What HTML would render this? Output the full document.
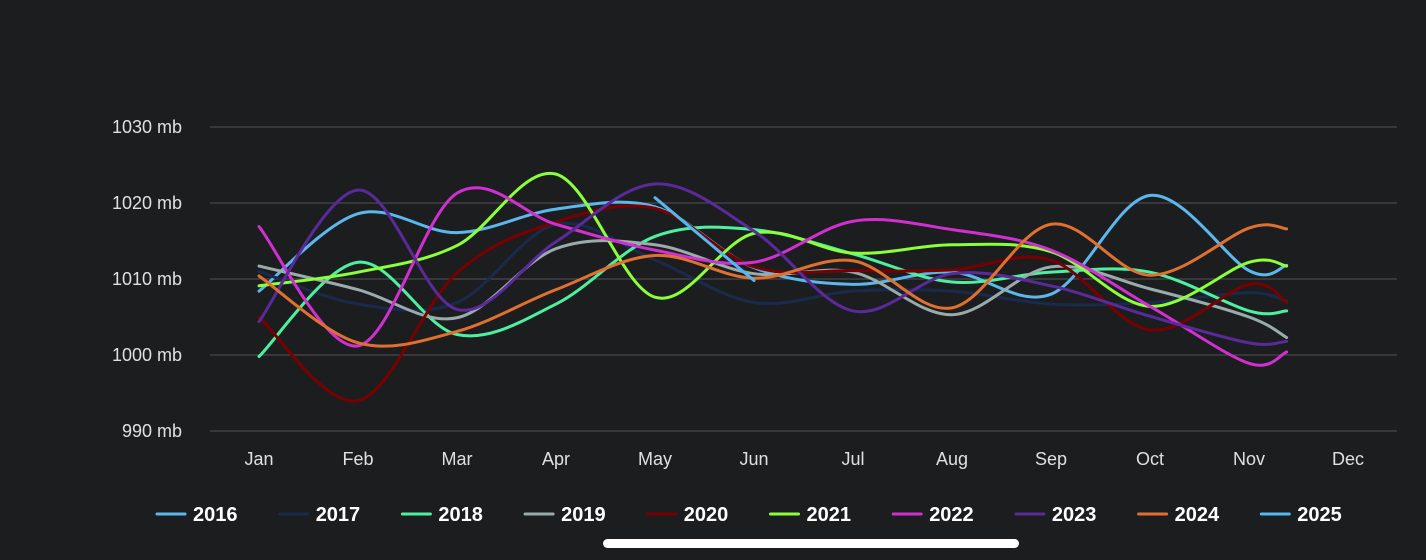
<!DOCTYPE html>
<html><head><meta charset="utf-8"><style>
html,body{margin:0;padding:0;background:#1c1d1f;}
svg{display:block;font-family:"Liberation Sans",sans-serif;}
</style></head><body>
<svg id="chart" width="1426" height="560" viewBox="0 0 1426 560">
<rect width="1426" height="560" fill="#1c1d1f"/>
<g id="grid"></g>
<g id="ylabels"></g>
<g id="xlabels"></g>
<g id="series"></g>
<g id="legend"></g>
<rect x="603" y="539" width="416" height="9" rx="4.5" fill="#ffffff"/>
</svg>
<script>
const categories = ["Jan","Feb","Mar","Apr","May","Jun","Jul","Aug","Sep","Oct","Nov","Dec"];
const yTicks = [990,1000,1010,1020,1030];
const years = ["2016","2017","2018","2019","2020","2021","2022","2023","2024","2025"];
const colors = ["#5cb8ec","#1a2a4c","#4ef0a0","#9aabab","#7a0000","#8aff3a","#d030d0","#5a2a9a","#e07030","#52b8f0"];
// month indices of points (last point = partial current month)
const xIdx = [0,1,2,3,4,5,6,7,8,9,10,10.38];
const s2016 = [1008.4,1018.6,1016.1,1019.2,1019.5,1011.5,1009.3,1010.9,1008,1021,1011.1,1011.8];
const s2017 = [1011,1006.7,1006.9,1017.2,1012.5,1006.9,1008.4,1008.4,1006.7,1006.9,1008.2,1007.1];
const s2018 = [999.8,1012.2,1002.7,1006.7,1015.6,1016.5,1013.3,1009.6,1010.9,1010.9,1005.8,1005.8];
const s2019 = [1011.7,1008.6,1004.9,1014,1014.5,1010.7,1010.9,1005.3,1011.6,1008.7,1005,1002.3];
const s2020 = [1005,994,1010.8,1017.5,1019.3,1011.6,1011.1,1011.2,1012.5,1003.3,1009.3,1006.9];
const s2021 = [1009.1,1010.9,1014.4,1023.8,1007.6,1016,1013.4,1014.5,1013.6,1006.4,1012.2,1011.7];
const s2022 = [1016.9,1001.2,1021.3,1017.2,1013.8,1012.2,1017.6,1016.5,1013.8,1006.4,998.9,1000.4];
const s2023 = [1004.4,1021.7,1006,1014.9,1022.5,1016.3,1005.8,1010.7,1009.1,1005.1,1001.6,1001.8];
const s2024 = [1010.4,1001.6,1003.1,1008.6,1013.1,1010.1,1012.4,1006.2,1017.2,1010.5,1016.7,1016.6];
const s2025 = [null,null,null,null,1020.7,1009.8,null,null,null,null,null,null];
const seriesData = [s2016,s2017,s2018,s2019,s2020,s2021,s2022,s2023,s2024,s2025];

const NS="http://www.w3.org/2000/svg";
const xScale = i => 259 + i*99;
const yScale = v => 431 - (v-990)*7.6;
function mk(tag, attrs, parent){const e=document.createElementNS(NS,tag);for(const k in attrs)e.setAttribute(k,attrs[k]);parent.appendChild(e);return e;}

const grid=document.getElementById('grid'), yl=document.getElementById('ylabels'), xl=document.getElementById('xlabels');
yTicks.forEach(t=>{
  const ln=mk('line',{x1:210,x2:1397,y1:yScale(t),y2:yScale(t),stroke:'#48494b','stroke-width':1.2},grid);
  
  
  const tx=mk('text',{x:182,y:yScale(t)+6,'text-anchor':'end','font-size':18,fill:'#e0e0e0'},yl);
  tx.textContent=t+' mb';
  
  
});
categories.forEach((c,i)=>{
  const tx=mk('text',{x:xScale(i),y:465,'text-anchor':'middle','font-size':18,fill:'#e0e0e0'},xl);
  tx.textContent=c;
  
  
});

function pathFor(pts){
  if(pts.length<2)return '';
  let d='M'+pts[0][0]+','+pts[0][1];
  for(let i=0;i<pts.length-1;i++){
    const p0=pts[i-1]||pts[i],p1=pts[i],p2=pts[i+1],p3=pts[i+2]||p2;
    const c1=[p1[0]+(p2[0]-p0[0])/6,p1[1]+(p2[1]-p0[1])/6];
    const c2=[p2[0]-(p3[0]-p1[0])/6,p2[1]-(p3[1]-p1[1])/6];
    d+=' C'+c1[0]+','+c1[1]+' '+c2[0]+','+c2[1]+' '+p2[0]+','+p2[1];
  }
  return d;
}
const sg=document.getElementById('series');
seriesData.forEach((s,k)=>{
  const pts=[];
  s.forEach((v,i)=>{if(v!==null)pts.push([xScale(xIdx[i]),yScale(v)]);});
  const p=mk('path',{d:pathFor(pts),fill:'none',stroke:colors[k],'stroke-width':3,'stroke-linecap':'round'},sg);
  
  
});
const lg=document.getElementById('legend');
years.forEach((y,k)=>{
  const x0=157+k*122.7;
  const g=mk('g',{},lg);
  
  
  mk('line',{x1:x0,x2:x0+28,y1:514,y2:514,stroke:colors[k],'stroke-width':3,'stroke-linecap':'round'},g);
  const t=mk('text',{x:x0+36,y:521,'font-size':20,'font-weight':'bold',fill:'#ffffff'},g);
  t.textContent=y;
});
</script>
</body></html>
